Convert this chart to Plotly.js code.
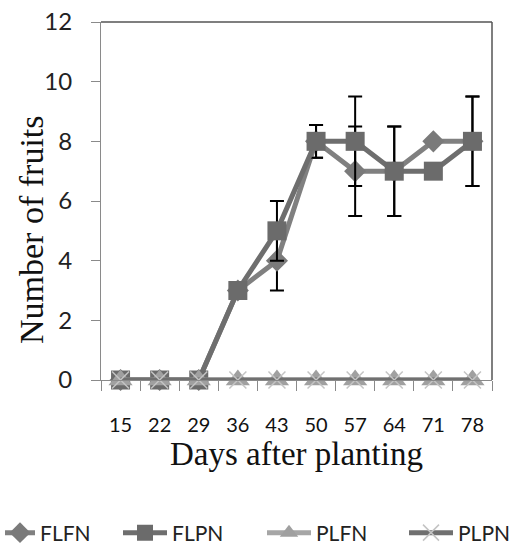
<!DOCTYPE html>
<html>
<head>
<meta charset="utf-8">
<script src="https://cdn.plot.ly/plotly-3.0.1.min.js"></script>
<style>html,body{margin:0;padding:0;background:#fff;}#chart{width:527px;height:549px;}</style>
</head>
<body>
<div id="chart"></div>
<script>
var days = ["15", "22", "29", "36", "43", "50", "57", "64", "71", "78"];
var flfn = [0, 0, 0, 3, 4, 8, 7, 7, 8, 8];
var flfnErr = [0, 0, 0, 0, 1, 0.55, 1.5, 1.5, 0, 1.5];
var flpn = [0, 0, 0, 3, 5, 8, 8, 7, 7, 8];
var flpnErr = [0, 0, 0, 0, 1, 0.55, 1.5, 1.5, 0, 1.5];
var plfn = [0, 0, 0, 0, 0, 0, 0, 0, 0, 0];
var plpn = [0, 0, 0, 0, 0, 0, 0, 0, 0, 0];
var yTicks = [0, 2, 4, 6, 8, 10, 12];

var errStyle = function (arr) {
  return {type: 'data', array: arr, visible: true, color: '#000', thickness: 2, width: 7};
};

var traces = [
  {name: 'FLFN', x: days, y: flfn, type: 'scatter', mode: 'lines+markers', cliponaxis: false, legend: 'legend',
   line: {color: '#808080', width: 5},
   marker: {symbol: 'diamond', size: 17, color: '#7a7a7a'},
   error_y: errStyle(flfnErr)},
  {name: 'FLPN', x: days, y: flpn, type: 'scatter', mode: 'lines+markers', cliponaxis: false, legend: 'legend2',
   line: {color: '#6e6e6e', width: 5},
   marker: {symbol: 'square', size: 19, color: '#6b6b6b'},
   error_y: errStyle(flpnErr)},
  {name: 'PLFN', x: days, y: plfn, type: 'scatter', mode: 'lines+markers', cliponaxis: false, legend: 'legend3',
   line: {color: '#a6a6a6', width: 5},
   marker: {symbol: 'triangle-up', size: 21, color: '#a0a0a0'}},
  {name: 'PLPN', x: days, y: plpn, type: 'scatter', mode: 'lines+markers', cliponaxis: false, legend: 'legend4',
   line: {color: '#707070', width: 5},
   marker: {symbol: 'x-thin', size: 17, line: {color: '#c4c4c4', width: 1.5}, color: '#c4c4c4'}}
];

var legendFont = {size: 21, color: '#222', family: 'Lato, "Open Sans", sans-serif'};
function leg(xpx, iw) {
  return {
    xref: 'container', yref: 'container', x: xpx / 527, xanchor: 'left',
    y: 1 - 533 / 549, yanchor: 'middle', orientation: 'h', itemwidth: iw,
    font: legendFont, bgcolor: 'rgba(0,0,0,0)', borderwidth: 0
  };
}

var layout = {
  width: 527, height: 549,
  margin: {l: 101, r: 35, t: 22, b: 169},
  paper_bgcolor: '#fff', plot_bgcolor: '#fff',
  showlegend: true,
  font: {family: 'Lato, "Open Sans", sans-serif', color: '#222'},
  xaxis: {
    type: 'category', range: [-0.5, 9.5], tickmode: 'array', tickvals: days, ticktext: days,
    tickson: 'boundaries', ticks: 'outside', ticklen: 10, tickcolor: '#8a8a8a', tickwidth: 1,
    showline: true, linecolor: '#8a8a8a', linewidth: 1, showgrid: false, zeroline: false,
    automargin: false,
    tickfont: {size: 20, color: '#111', family: 'Lato, "Open Sans", sans-serif'},
    ticklabelstandoff: 27,
    title: {text: 'Days after planting', font: {family: '"Liberation Serif", "Times New Roman", serif', size: 33, color: '#111'}, standoff: 3}
  },
  yaxis: {
    range: [0, 12], tickmode: 'array', tickvals: yTicks, ticktext: yTicks.map(String),
    ticks: 'outside', ticklen: 9, tickcolor: '#8a8a8a', tickwidth: 1,
    showline: true, linecolor: '#8a8a8a', linewidth: 1, showgrid: false, zeroline: false,
    automargin: false,
    tickfont: {size: 24, color: '#222', family: 'Lato, "Open Sans", sans-serif'},
    ticklabelstandoff: 14
  },
  annotations: [
    {text: 'Number of fruits', xref: 'paper', yref: 'paper', x: (31 - 101) / 391, y: (380 - 230) / 358,
     xanchor: 'center', yanchor: 'middle', textangle: -90, showarrow: false,
     font: {family: '"Liberation Serif", "Times New Roman", serif', size: 34, color: '#111'}}
  ],
  shapes: [
    {type: 'line', xref: 'paper', yref: 'paper', x0: 0, x1: 1, y0: 1, y1: 1, line: {color: '#555', width: 1.5}},
    {type: 'line', xref: 'paper', yref: 'paper', x0: 1, x1: 1, y0: 0, y1: 1, line: {color: '#555', width: 1.5}}
  ],
  legend: leg(0, 30),
  legend2: leg(118, 44),
  legend3: leg(262, 44),
  legend4: leg(404, 44)
};

Plotly.newPlot('chart', traces, layout, {displayModeBar: false, staticPlot: true});
</script>
</body>
</html>
